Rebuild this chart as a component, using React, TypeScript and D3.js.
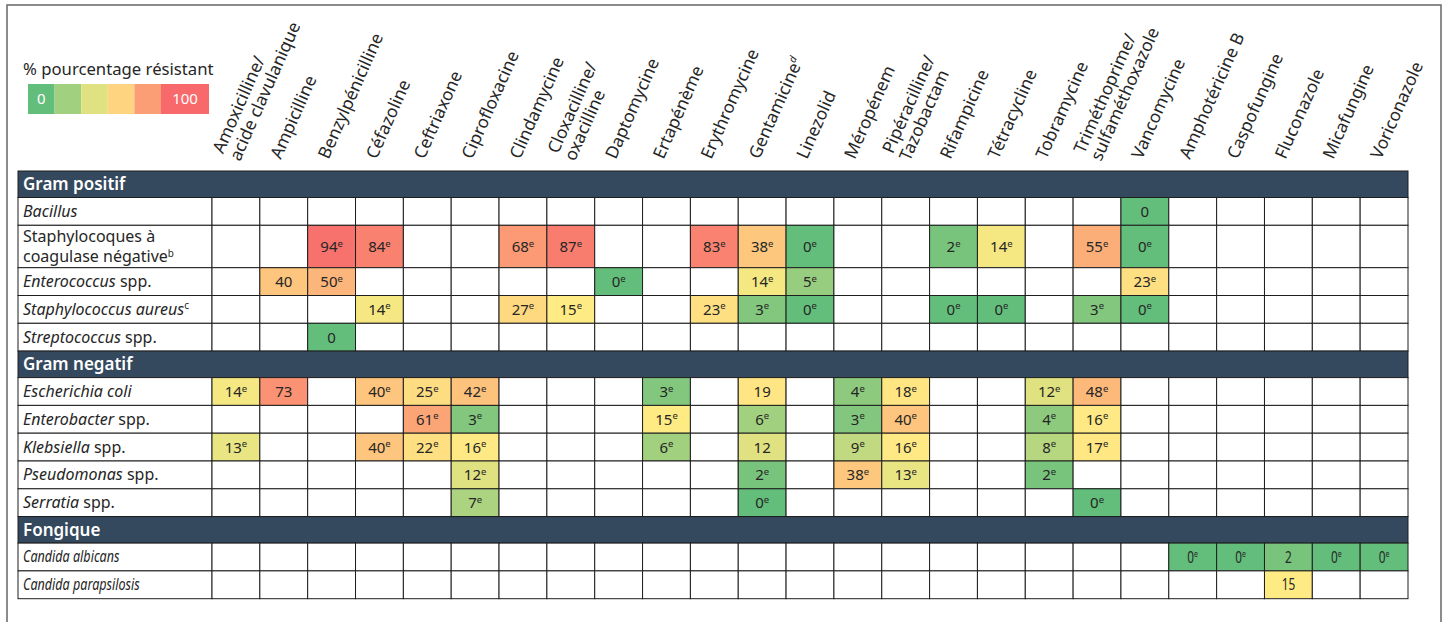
import React from 'react';
import * as d3 from 'd3';

// column headers, '|' = line break, '^x' = superscript note
const drugs = [
  'Amoxicilline/|acide clavulanique', 'Ampicilline', 'Benzylpénicilline', 'Céfazoline', 'Ceftriaxone',
  'Ciprofloxacine', 'Clindamycine', 'Cloxacilline/|oxacilline', 'Daptomycine', 'Ertapénème',
  'Erythromycine', 'Gentamicine^d', 'Linezolid', 'Méropénem', 'Pipéracilline/|Tazobactam',
  'Rifampicine', 'Tétracycline', 'Tobramycine', 'Triméthoprime/|sulfaméthoxazole', 'Vancomycine',
  'Amphotéricine B', 'Caspofungine', 'Fluconazole', 'Micafungine', 'Voriconazole',
];

const groups = ['Gram positif', 'Gram negatif', 'Fongique'];

// '*...*' = italic
const gramPositifOrganisms = [
  '*Bacillus*', 'Staphylocoques à|coagulase négative^b', '*Enterococcus* spp.',
  '*Staphylococcus aureus*^c', '*Streptococcus* spp.',
];
const gramNegatifOrganisms = [
  '*Escherichia coli*', '*Enterobacter* spp.', '*Klebsiella* spp.', '*Pseudomonas* spp.', '*Serratia* spp.',
];
const fongiqueOrganisms = ['*Candida albicans*', '*Candida parapsilosis*'];

// % resistant, 'e' suffix = footnote e, '' = no data
const gramPositifValues = [
  ['', '', '', '', '', '', '', '', '', '', '', '', '', '', '', '', '', '', '', '0', '', '', '', '', ''],
  ['', '', '94e', '84e', '', '', '68e', '87e', '', '', '83e', '38e', '0e', '', '', '2e', '14e', '', '55e', '0e', '', '', '', '', ''],
  ['', '40', '50e', '', '', '', '', '', '0e', '', '', '14e', '5e', '', '', '', '', '', '', '23e', '', '', '', '', ''],
  ['', '', '', '14e', '', '', '27e', '15e', '', '', '23e', '3e', '0e', '', '', '0e', '0e', '', '3e', '0e', '', '', '', '', ''],
  ['', '', '0', '', '', '', '', '', '', '', '', '', '', '', '', '', '', '', '', '', '', '', '', '', ''],
];
const gramNegatifValues = [
  ['14e', '73', '', '40e', '25e', '42e', '', '', '', '3e', '', '19', '', '4e', '18e', '', '', '12e', '48e', '', '', '', '', '', ''],
  ['', '', '', '', '61e', '3e', '', '', '', '15e', '', '6e', '', '3e', '40e', '', '', '4e', '16e', '', '', '', '', '', ''],
  ['13e', '', '', '40e', '22e', '16e', '', '', '', '6e', '', '12', '', '9e', '16e', '', '', '8e', '17e', '', '', '', '', '', ''],
  ['', '', '', '', '', '12e', '', '', '', '', '', '2e', '', '38e', '13e', '', '', '2e', '', '', '', '', '', '', ''],
  ['', '', '', '', '', '7e', '', '', '', '', '', '0e', '', '', '', '', '', '', '0e', '', '', '', '', '', ''],
];
const fongiqueValues = [
  ['', '', '', '', '', '', '', '', '', '', '', '', '', '', '', '', '', '', '', '', '0e', '0e', '2', '0e', '0e'],
  ['', '', '', '', '', '', '', '', '', '', '', '', '', '', '', '', '', '', '', '', '', '', '15', '', ''],
];

const legendTitle = '% pourcentage résistant';
const legendStops = [0, 6, 12, 30, 66, 100];

const FONT = '"Noto Sans", "Open Sans", sans-serif';
const TEXT = '#262626';
const NAVY = '#34485E';
const GRID = '#1e1e1e';

const color = d3.scaleLinear<string>()
  .domain([0, 15, 100])
  .range(['#63BE7B', '#FFEB84', '#F8696B'])
  .interpolate(d3.interpolateRgb);

const rich = (str: string, key: string) => {
  const parts = str.split(/(\*[^*]+\*|\^\w)/).filter(Boolean);
  return parts.map((p, i) => {
    if (p.startsWith('*')) return <tspan key={key + i} fontStyle="italic">{p.slice(1, -1)}</tspan>;
    if (p.startsWith('^')) return <tspan key={key + i} fontSize="0.62em" dy="-0.55em">{p.slice(1)}</tspan>;
    return <tspan key={key + i}>{p}</tspan>;
  });
};

const LEFT = 18, LABEL_W = 194, RIGHT = 1408, TOP = 171;
const BAND_H = 26.5, ROW_H = 27.8, TALL_H = 42.4;

const App = () => {
  const x = d3.scaleBand().domain(drugs).range([LEFT + LABEL_W, RIGHT]).padding(0);

  const sections = [
    { name: groups[0], organisms: gramPositifOrganisms, values: gramPositifValues, squeeze: 1, size: 16 },
    { name: groups[1], organisms: gramNegatifOrganisms, values: gramNegatifValues, squeeze: 1, size: 16 },
    // the fungal rows use a condensed face in the original
    { name: groups[2], organisms: fongiqueOrganisms, values: fongiqueValues, squeeze: 0.74, size: 17 },
  ];

  // stack bands and rows
  let y = TOP;
  const rows: any[] = [];
  sections.forEach(s => {
    rows.push({ band: true, label: s.name, y, h: BAND_H });
    y += BAND_H;
    s.organisms.forEach((o, i) => {
      const h = o.includes('|') ? TALL_H : ROW_H;
      rows.push({ band: false, label: o, values: s.values[i], y, h, squeeze: s.squeeze, size: s.size });
      y += h;
    });
  });

  const legendX = d3.scaleBand<number>().domain(legendStops.slice(0, 5)).range([28, 161]);

  return (
    <svg width={1450} height={622} style={{ position: 'absolute', left: 0, top: 0, fontFamily: FONT }}>
      <rect x={7} y={5} width={1434} height={700} fill="none" stroke="#666" strokeWidth={1.5} />

      {/* legend */}
      <text x={23} y={75} fontSize={16.7} fill={TEXT}>{legendTitle}</text>
      {legendStops.map((v, i) => {
        const lx = i < 5 ? legendX(v)! : 161;
        const lw = i < 5 ? legendX.bandwidth() : 48;
        return (
          <g key={'lg' + i}>
            <rect x={lx} y={84} width={lw} height={30} fill={color(v)} />
            {(i === 0 || i === legendStops.length - 1) &&
              <text x={lx + lw / 2} y={104} textAnchor="middle" fontSize={15} fill="#fff">{v}</text>}
          </g>
        );
      })}

      {/* column headers */}
      {drugs.map(d => {
        const lines = d.split('|');
        const cx = x(d)! + x.bandwidth() / 2;
        const tx = lines.length > 1 ? cx + 4 : cx - 3;
        const ty = lines.length > 1 ? 162 : 160;
        return (
          <text key={d} transform={`translate(${tx},${ty}) rotate(-66)`} fontSize={17.3} fill={TEXT}>
            {lines.map((l, i) => (
              <tspan key={i} x={0} y={(i - lines.length + 1) * 18.5}>
                {l.includes('^')
                  ? <>{l.split('^')[0]}<tspan fontSize="0.6em" fontStyle="italic" dy="-0.65em">{l.split('^')[1]}</tspan></>
                  : l}
              </tspan>
            ))}
          </text>
        );
      })}

      {/* table */}
      {rows.map((r, ri) => {
        if (r.band) {
          return (
            <g key={'r' + ri}>
              <rect x={LEFT} y={r.y} width={RIGHT - LEFT} height={r.h} fill={NAVY} stroke={GRID} strokeWidth={1} />
              <text x={23} y={r.y + r.h / 2 + 6} fontSize={17} fontWeight={600} fill="#fff">{r.label}</text>
            </g>
          );
        }
        const lines = r.label.split('|');
        const cy = r.y + r.h / 2;
        return (
          <g key={'r' + ri}>
            <rect x={LEFT} y={r.y} width={LABEL_W} height={r.h} fill="#fff" stroke={GRID} strokeWidth={1} />
            <text fontSize={r.size} fill={TEXT} transform={`translate(23,0) scale(${r.squeeze},1)`}>
              {lines.map((l: string, i: number) => (
                <tspan key={i} x={0} y={cy + 5.5 + (i - (lines.length - 1) / 2) * 20}>{rich(l, 'o' + ri + i)}</tspan>
              ))}
            </text>
            {drugs.map((d, ci) => {
              const v: string = r.values[ci];
              const num = v === '' ? null : parseInt(v, 10);
              return (
                <g key={d}>
                  <rect x={x(d)} y={r.y} width={x.bandwidth()} height={r.h}
                    fill={num === null ? '#fff' : color(num)} stroke={GRID} strokeWidth={1} />
                  {num !== null &&
                    <text transform={`translate(${x(d)! + x.bandwidth() / 2},${cy + 5.5}) scale(${r.squeeze},1)`}
                      textAnchor="middle" fontSize={r.squeeze < 1 ? 16 : 15} fill={TEXT}>
                      {num}
                      {v.endsWith('e') && <tspan fontSize={9.5} dy={-5.5}>e</tspan>}
                    </text>}
                </g>
              );
            })}
          </g>
        );
      })}
    </svg>
  );
};

export default App;
